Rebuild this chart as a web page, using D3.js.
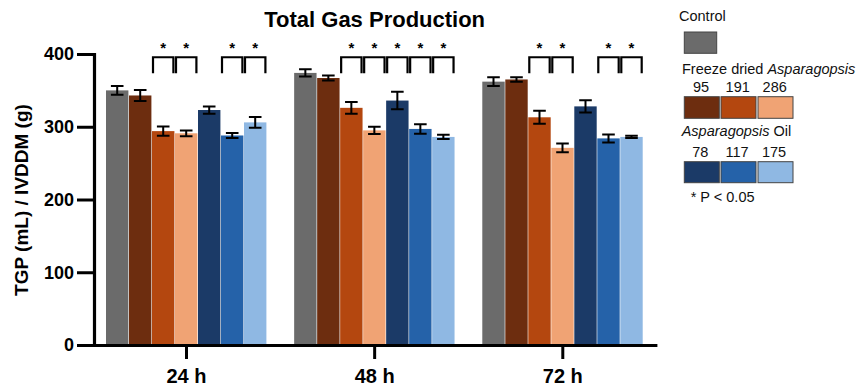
<!DOCTYPE html>
<html><head><meta charset="utf-8">
<script src="https://cdn.jsdelivr.net/npm/d3@7"></script>
<style>
body{margin:0;background:#fff}
svg{display:block;font-family:"Liberation Sans",Arial,Helvetica,sans-serif}
</style>
</head><body>
<svg id="chart" width="866" height="387"></svg>
<script>
// ---------- data ----------
const groups = ["24 h", "48 h", "72 h"];
const series = ["Control", "FD 95", "FD 191", "FD 286", "AO 78", "AO 117", "AO 175"];
const seriesColors = ["#6b6b6b", "#6d2d0f", "#b4470f", "#f0a374", "#1b3a67", "#2562a9", "#8fb8e3"];

const tgp24 = [350, 343, 294, 291, 323, 288, 306];
const err24 = [6, 7.5, 6.5, 4, 5, 3.5, 7.5];
const sig24 = [0, 0, 1, 1, 0, 1, 1];

const tgp48 = [374, 367, 326, 295, 336, 297, 286];
const err48 = [5, 3.5, 8, 5, 12, 6.5, 3];
const sig48 = [0, 0, 1, 1, 1, 1, 1];

const tgp72 = [362, 365, 313, 271, 328, 284, 286];
const err72 = [6, 3, 9, 6, 8.5, 5.5, 1.5];
const sig72 = [0, 0, 1, 1, 0, 1, 1];

const yTicks = [0, 100, 200, 300, 400];
const titleText = "Total Gas Production";
const yLabelText = "TGP (mL) / IVDDM (g)";
const legendControl = "Control";
const legendFDPlain = "Freeze dried ";
const legendGenus = "Asparagopsis";
const legendAOPlain = " Oil";
const legendFDDoses = ["95", "191", "286"];
const legendAODoses = ["78", "117", "175"];
const sigNote = "* P < 0.05";

// ---------- build ----------
const means = [tgp24, tgp48, tgp72];
const errs = [err24, err48, err72];
const sigs = [sig24, sig48, sig72];
const rows = [];
groups.forEach((g, gi) => series.forEach((s, si) => rows.push({
  g, s, si, v: means[gi][si], e: errs[gi][si], sig: sigs[gi][si]
})));

const svg = d3.select("#chart");

const x0 = d3.scaleBand().domain(groups).range([94, 655.3])
  .paddingInner(0.1443).paddingOuter(0.0638);
const x1 = d3.scaleBand().domain(series).range([0, x0.bandwidth()]);
const y = d3.scaleLinear().domain([0, 400]).range([345, 54]);
const color = d3.scaleOrdinal().domain(series).range(seriesColors);

const barW = x1.bandwidth() - 0.6;

// bars
svg.append("g").selectAll("rect").data(rows).join("rect")
  .attr("x", d => x0(d.g) + x1(d.s))
  .attr("y", d => y(d.v))
  .attr("width", barW)
  .attr("height", d => y(0) - y(d.v))
  .attr("fill", d => color(d.s));

// error bars
const eb = svg.append("g").attr("stroke", "#000").attr("stroke-width", 2).attr("fill", "none");
rows.forEach(d => {
  const cx = x0(d.g) + x1(d.s) + barW / 2;
  const capW = 6.3;
  eb.append("path").attr("d",
    `M${cx},${y(d.v - d.e)}V${y(d.v + d.e)}` +
    `M${cx - capW},${y(d.v + d.e)}H${cx + capW}` +
    `M${cx - capW},${y(d.v - d.e)}H${cx + capW}`);
});

// significance brackets
const brTop = y(395.5), brBot = y(373.5);
const sg = svg.append("g");
rows.filter(d => d.sig).forEach(d => {
  const bx = x0(d.g) + x1(d.s);
  const l = bx + 1, r = bx + barW - 1;
  sg.append("path")
    .attr("d", `M${l},${brBot}V${brTop}H${r}V${brBot}`)
    .attr("fill", "none").attr("stroke", "#000").attr("stroke-width", 2.2);
  sg.append("text").attr("x", (l + r) / 2).attr("y", brTop - 4.6)
    .attr("text-anchor", "middle").attr("font-size", 15).attr("font-weight", "bold")
    .text("*");
});

// y axis
const yAxis = svg.append("g").attr("transform", "translate(94,0)")
  .call(d3.axisLeft(y).tickValues(yTicks).tickSize(17).tickPadding(3).tickSizeOuter(0));
yAxis.select(".domain").attr("stroke-width", 3.2).attr("stroke-linecap", "square");
yAxis.selectAll(".tick line").attr("stroke-width", 3);
yAxis.selectAll(".tick text").attr("font-size", 18).attr("font-weight", "bold")
  .attr("font-family", "Liberation Sans, Arial, sans-serif").attr("fill", "#000");

// x axis
const xAxis = svg.append("g").attr("transform", "translate(0,345)")
  .call(d3.axisBottom(x0).tickSize(14).tickPadding(9.8).tickSizeOuter(0));
xAxis.select(".domain").attr("stroke-width", 3.2).attr("stroke-linecap", "square");
xAxis.selectAll(".tick line").attr("stroke-width", 3);
xAxis.selectAll(".tick text").attr("font-size", 20).attr("font-weight", "bold")
  .attr("font-family", "Liberation Sans, Arial, sans-serif").attr("fill", "#000");

// title
svg.append("text").attr("x", x0("48 h") + x0.bandwidth() / 2).attr("y", 27.3)
  .attr("text-anchor", "middle").attr("font-size", 22).attr("font-weight", "bold")
  .text(titleText);

// y label
svg.append("text").attr("transform", "translate(27.5,200) rotate(-90)")
  .attr("text-anchor", "middle").attr("font-size", 19).attr("font-weight", "bold")
  .text(yLabelText);

// ---------- legend ----------
const lg = svg.append("g").attr("font-size", 14.5).attr("fill", "#111");
lg.append("text").attr("x", 679).attr("y", 21).text(legendControl);
lg.append("rect").attr("x", 684.3).attr("y", 32).attr("width", 32.4).attr("height", 21.3)
  .attr("fill", color("Control")).attr("stroke", "#444").attr("stroke-width", 1);

const fdT = lg.append("text").attr("x", 682).attr("y", 74);
fdT.append("tspan").text(legendFDPlain);
fdT.append("tspan").attr("font-style", "italic").text(legendGenus);

const swX = [684.3, 721, 758];
const swW = 35;
const fdSeries = series.slice(1, 4), aoSeries = series.slice(4, 7);
legendFDDoses.forEach((t, i) => {
  lg.append("text").attr("x", swX[i] + swW / 2 - 0.8).attr("y", 92).attr("text-anchor", "middle").text(t);
  lg.append("rect").attr("x", swX[i]).attr("y", 96.7).attr("width", swW).attr("height", 21.6)
    .attr("fill", color(fdSeries[i])).attr("stroke", "#444").attr("stroke-width", 1);
});

const aoT = lg.append("text").attr("x", 681.7).attr("y", 135.7);
aoT.append("tspan").attr("font-style", "italic").text(legendGenus);
aoT.append("tspan").text(legendAOPlain);

legendAODoses.forEach((t, i) => {
  lg.append("text").attr("x", swX[i] + swW / 2 - 1.5).attr("y", 157.3).attr("text-anchor", "middle").text(t);
  lg.append("rect").attr("x", swX[i]).attr("y", 161.7).attr("width", swW).attr("height", 21)
    .attr("fill", color(aoSeries[i])).attr("stroke", "#444").attr("stroke-width", 1);
});

lg.append("text").attr("x", 690.7).attr("y", 201.7).text(sigNote);
</script>
</body></html>
